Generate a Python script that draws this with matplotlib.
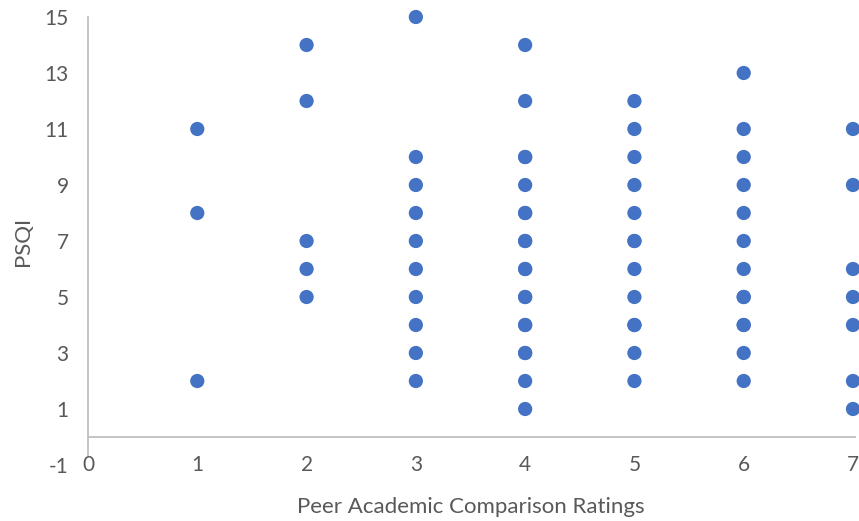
import matplotlib
matplotlib.use("Agg")
import matplotlib.pyplot as plt

# peer comparison rating vs PSQI score; repeated pairs listed twice
rating_1 = [11, 8, 2]
rating_2 = [14, 12, 7, 6, 5]
rating_3 = [15, 10, 9, 8, 7, 6, 5, 4, 3, 2]
rating_4 = [14, 12, 10, 10, 9, 8, 8, 7, 7, 6, 6, 5, 5, 4, 4, 3, 3, 2, 1]
rating_5 = [12, 11, 10, 9, 8, 7, 7, 6, 5, 4, 4, 3, 2]
rating_6 = [13, 11, 10, 9, 8, 7, 6, 5, 5, 4, 4, 3, 2]
rating_7 = [11, 9, 6, 5, 4, 2, 1]

groups = [rating_1, rating_2, rating_3, rating_4, rating_5, rating_6, rating_7]
ratings = [i + 1 for i, g in enumerate(groups) for _ in g]
psqi = [v for g in groups for v in g]

x_ticks = [0, 1, 2, 3, 4, 5, 6, 7]
y_ticks = [-1, 1, 3, 5, 7, 9, 11, 13, 15]

plt.rcParams['font.family'] = ['Lato', 'DejaVu Sans']
plt.rcParams['axes.unicode_minus'] = False
text_col = '#595959'
axis_col = '#BFBFBF'

fig = plt.figure(figsize=(8.59, 5.21), dpi=100)
ax = fig.add_axes([88 / 859, 1 - 465 / 521, 765 / 859, 448 / 521])

ax.scatter(ratings, psqi, s=105, color='#4472C4', edgecolors='none',
           zorder=3, clip_on=False)

ax.set_xlim(0, 7)
ax.set_ylim(-1, 15)
for side in ['top', 'right', 'bottom', 'left']:
    ax.spines[side].set_visible(False)

# axis lines cross at the origin
ax.plot([0, 7.02], [0, 0], color=axis_col, lw=1.3, clip_on=False, zorder=1)
ax.plot([0, 0], [-0.65, 15], color=axis_col, lw=1.3, clip_on=False, zorder=1)

ax.set_xticks(x_ticks)
ax.set_yticks(y_ticks)
ax.tick_params(axis='both', length=0, labelsize=15, labelcolor=text_col)
ax.tick_params(axis='y', pad=14)
ax.tick_params(axis='x', pad=0)
for lbl in ax.get_xticklabels():
    lbl.set_verticalalignment('center')

ax.set_xlabel('Peer Academic Comparison Ratings', fontsize=16, color=text_col,
              labelpad=16)
ax.set_ylabel('PSQI', fontsize=16, color=text_col, labelpad=8)

fig.savefig('out.png', dpi=100)
